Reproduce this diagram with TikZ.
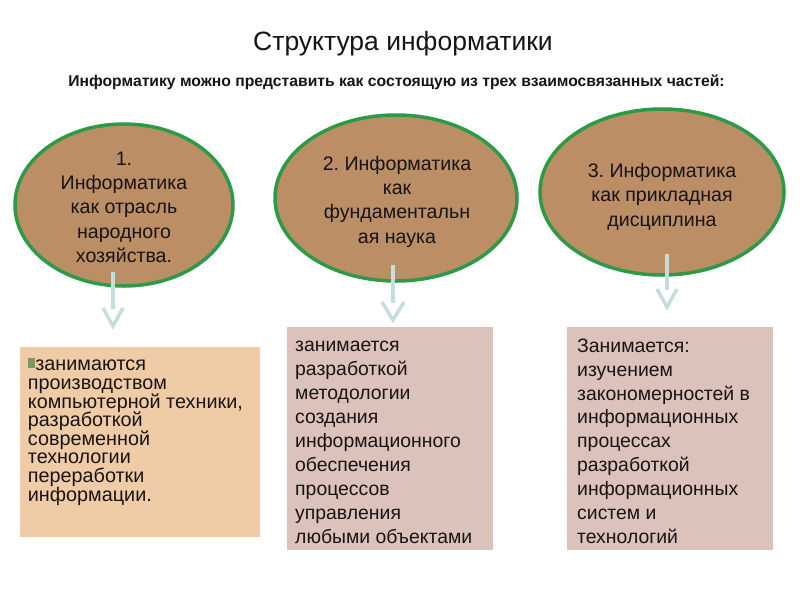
\documentclass[tikz,border=0pt]{standalone}
\usepackage{fontspec}
\setmainfont{Liberation Sans}
\usetikzlibrary{shapes.geometric,calc}
\definecolor{ellfill}{RGB}{187,142,101}
\definecolor{ellline}{RGB}{45,154,72}
\definecolor{boxA}{RGB}{239,203,166}
\definecolor{boxB}{RGB}{219,194,186}
\definecolor{arrowc}{RGB}{196,221,222}
\definecolor{bulc}{RGB}{125,150,100}
\definecolor{txt}{RGB}{25,20,20}
\lineskiplimit=-30pt\relax
\frenchspacing
\begin{document}
\begin{tikzpicture}[x=1pt,y=-1pt,
  ell/.style={ellipse, draw=ellline, line width=3.5pt, fill=ellfill, inner sep=0pt},
  etext/.style={anchor=north, align=center, inner sep=0pt, text=txt,
    font=\fontsize{19.6}{24.3}\selectfont},
  btext/.style={anchor=north west, align=left, inner sep=0pt, text=txt},
  panel/.style={inner sep=0pt, anchor=north west},
  shaft/.style={draw=arrowc, line width=4.5pt},
  chev/.style={draw=arrowc, line width=3.5pt, line join=miter},
]
\useasboundingbox (0,0) rectangle (800,600);
\fill[white] (0,0) rectangle (800,600);

% titles
\node[anchor=base, inner sep=0pt, font=\fontsize{26.5}{30}\selectfont, text=txt] (title) at (403,50) {Структура информатики};
\node[anchor=base, inner sep=0pt, font=\fontsize{15.7}{18}\selectfont\bfseries, text=txt] (sub) at (396.5,86) {Информатику можно представить как состоящую из трех взаимосвязанных частей:};

% ellipses
\node[ell, minimum width=218pt, minimum height=162pt] (e1) at (124,205) {};
\node[ell, minimum width=242pt, minimum height=166pt] (e2) at (396,198) {};
\node[ell, minimum width=244pt, minimum height=166pt] (e3) at (662,192) {};

\node[etext] (t1) at (124,150) {\rule{0pt}{15pt}1.\\Информатика\\как отрасль\\народного\\хозяйства.};
\node[etext] (t2) at (397,155) {\rule{0pt}{15pt}2. Информатика\\как\\фундаментальн\\ая наука};
\node[etext, font=\fontsize{19.6}{24.6}\selectfont] (t3) at (662,162) {\rule{0pt}{15pt}3. Информатика\\как прикладная\\дисциплина};

% panels
\node[panel, fill=boxA, minimum width=240pt, minimum height=190pt] (b1) at (20,347) {};
\node[panel, fill=boxB, minimum width=206pt, minimum height=223pt] (b2) at (287,327) {};
\node[panel, fill=boxB, minimum width=206pt, minimum height=223pt] (b3) at (567,327) {};

\node[btext, font=\fontsize{19.8}{18.6}\selectfont] (p1) at (27.7,355.7)
 {\rule{0pt}{15pt}\textcolor{bulc}{\raisebox{3pt}{\rule{7pt}{10pt}}}\hspace{0.5pt}занимаются\\
  производством\\
  компьютерной техники,\\
  разработкой\\
  современной\\
  технологии\\
  переработки\\
  информации.};
\node[btext, font=\fontsize{19.4}{24}\selectfont] (p2) at (295,336)
 {\rule{0pt}{15pt}занимается\\
  разработкой\\
  методологии\\
  создания\\
  информационного\\
  обеспечения\\
  процессов\\
  управления\\
  любыми объектами};
\node[btext, font=\fontsize{19.4}{23.9}\selectfont] (p3) at (577,337)
 {\rule{0pt}{15pt}Занимается:\\
  изучением\\
  закономерностей в\\
  информационных\\
  процессах\\
  разработкой\\
  информационных\\
  систем и\\
  технологий};

% arrows
\coordinate (a1s) at ($(e1.south)+(-11,-16)$);
\coordinate (a1e) at (113,309);
\coordinate (a1t) at (113,326);
\coordinate (a2s) at ($(e2.south)+(-3,-18)$);
\coordinate (a2e) at (393,303);
\coordinate (a2t) at (393,320);
\coordinate (a3s) at ($(e3.south)+(5,-23)$);
\coordinate (a3e) at (667,290);
\coordinate (a3t) at (667,307);

\draw[shaft] (a1s) -- (a1e);
\draw[chev] ($(a1t)+(-10,-18)$) -- (a1t) -- ($(a1t)+(10,-18)$);
\draw[shaft] (a2s) -- (a2e);
\draw[chev] ($(a2t)+(-11,-18)$) -- (a2t) -- ($(a2t)+(11,-18)$);
\draw[shaft] (a3s) -- (a3e);
\draw[chev] ($(a3t)+(-10,-18)$) -- (a3t) -- ($(a3t)+(10,-18)$);
\end{tikzpicture}
\end{document}
